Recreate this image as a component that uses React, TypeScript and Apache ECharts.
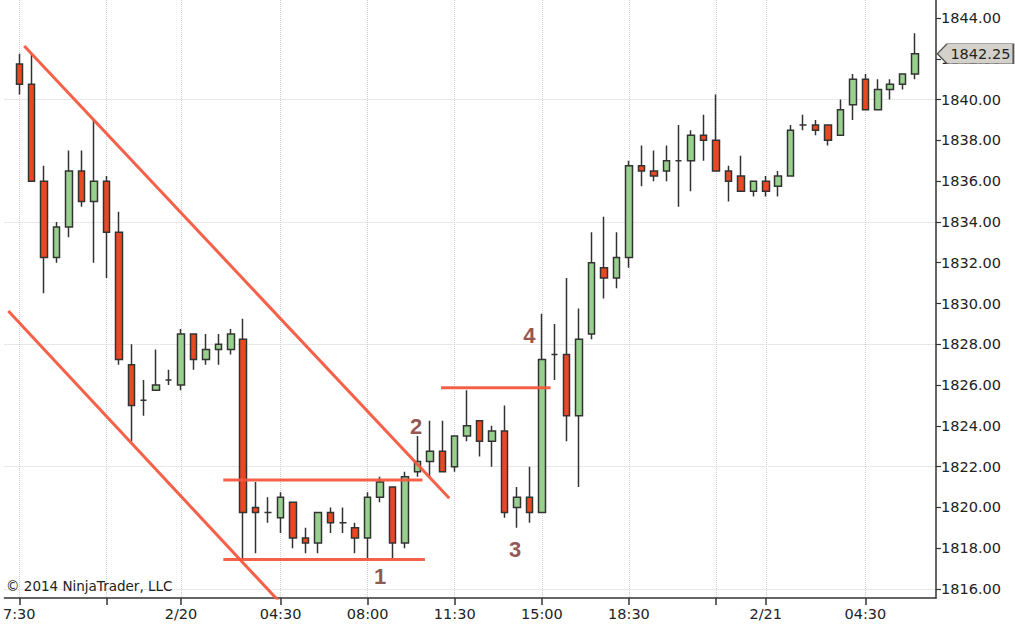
import React, { useEffect, useRef } from 'react';
import * as echarts from 'echarts';

// ---- candle data (index, open, close, low, high) ----
const opens = [
  1841.75, 1840.75, 1836.0, 1832.25, 1833.75, 1836.5, 1835.0, 1836.0, 1833.5, 1827.0,
  1825.25, 1825.75, 1826.25, 1826.0, 1828.5, 1827.25, 1827.75, 1827.75, 1828.25, 1820.0,
  1819.75, 1819.5, 1820.25, 1818.5, 1818.25, 1819.75, 1819.25, 1819.0, 1818.5, 1820.5,
  1821.0, 1818.25, 1821.75, 1822.25, 1822.75, 1822.0, 1823.5, 1824.25, 1823.25, 1823.75,
  1820.0, 1820.5, 1819.75, 1827.5, 1827.5, 1824.5, 1828.5, 1831.75, 1831.25, 1832.25,
  1836.75, 1836.5, 1836.5, 1837.0, 1837.0, 1838.25, 1838.0, 1836.5, 1836.25, 1835.5,
  1836.0, 1835.75, 1836.25, 1838.75, 1838.75, 1838.75, 1838.25, 1839.75, 1841.0, 1839.5,
  1840.5, 1840.75, 1841.25,
];
const closes = [
  1840.75, 1836.0, 1832.25, 1833.75, 1836.5, 1835.0, 1836.0, 1833.5, 1827.25, 1825.0,
  1825.25, 1826.0, 1826.25, 1828.5, 1827.25, 1827.75, 1828.0, 1828.5, 1819.75, 1819.75,
  1819.75, 1820.5, 1818.5, 1818.25, 1819.75, 1819.25, 1819.25, 1818.5, 1820.5, 1821.25,
  1818.25, 1821.5, 1822.25, 1822.75, 1821.75, 1823.5, 1824.0, 1823.25, 1823.75, 1819.75,
  1820.5, 1819.75, 1827.25, 1827.5, 1824.5, 1828.25, 1832.0, 1831.25, 1832.25, 1836.75,
  1836.5, 1836.25, 1837.0, 1837.0, 1838.25, 1838.0, 1836.5, 1836.0, 1835.5, 1836.0,
  1835.5, 1836.25, 1838.5, 1838.75, 1838.5, 1838.0, 1839.5, 1841.0, 1839.5, 1840.5,
  1840.75, 1841.25, 1842.25,
];
const lows = [
  1840.25, 1836.0, 1830.5, 1832.0, 1833.25, 1834.75, 1832.0, 1831.25, 1827.0, 1823.25,
  1824.5, 1825.75, 1826.0, 1825.75, 1826.75, 1827.0, 1827.0, 1827.5, 1817.5, 1817.75,
  1819.25, 1818.75, 1818.0, 1817.75, 1817.75, 1818.75, 1818.75, 1817.75, 1817.5, 1820.25,
  1817.5, 1818.0, 1821.5, 1821.5, 1821.75, 1821.75, 1823.25, 1822.5, 1822.0, 1819.5,
  1819.0, 1819.25, 1819.75, 1826.25, 1823.25, 1821.0, 1828.25, 1830.25, 1830.75, 1831.75,
  1835.75, 1836.0, 1836.0, 1834.75, 1835.5, 1837.0, 1836.5, 1835.0, 1835.5, 1835.25,
  1835.25, 1835.25, 1836.25, 1838.5, 1838.25, 1837.75, 1838.25, 1839.0, 1839.5, 1839.5,
  1840.0, 1840.5, 1841.0,
];
const highs = [
  1842.25, 1842.25, 1836.75, 1834.0, 1837.5, 1837.5, 1839.0, 1836.25, 1834.5, 1828.0,
  1826.25, 1827.75, 1826.75, 1828.75, 1828.5, 1828.5, 1828.5, 1828.75, 1829.25, 1821.25,
  1820.5, 1820.75, 1820.25, 1819.0, 1819.75, 1820.0, 1820.0, 1819.25, 1820.75, 1821.5,
  1821.0, 1821.75, 1823.5, 1824.25, 1824.25, 1823.5, 1825.75, 1824.25, 1824.0, 1825.0,
  1821.0, 1822.0, 1829.5, 1829.0, 1831.25, 1829.75, 1833.5, 1834.25, 1833.5, 1837.0,
  1837.75, 1837.5, 1837.75, 1838.75, 1838.5, 1839.25, 1840.25, 1836.75, 1837.25, 1836.0,
  1836.25, 1836.5, 1838.75, 1839.25, 1839.0, 1838.75, 1840.0, 1841.25, 1841.25, 1841.0,
  1841.0, 1841.25, 1843.25,
];

// ---- axes ----
const xTickIdx = [0, 7, 13, 21, 28, 35, 42, 49, 56, 60, 68];
const xLabelIdx = [0, 13, 21, 28, 35, 42, 49, 60, 68];
const xLabels = ['7:30', '2/20', '04:30', '08:00', '11:30', '15:00', '18:30', '2/21', '04:30'];
const yTicks = [1816, 1818, 1820, 1822, 1824, 1826, 1828, 1830, 1832, 1834, 1836, 1838, 1840, 1842, 1844];
const yGridValues = [1816, 1822, 1828, 1834, 1840];
const lastPrice = 1842.25;

// ---- drawn trend lines (bar index, price) ----
const channelUpper = [[0.4, 1842.63], [34.56, 1820.45]];
const channelLower = [[-0.88, 1829.63], [21.4, 1815.05]];
const rangeTop = [[16.4, 1821.35], [32.4, 1821.35]];
const rangeBottom = [[16.4, 1817.45], [32.6, 1817.45]];
const resistance = [[33.9, 1825.87], [42.7, 1825.87]];

// ---- annotations ----
const annotX = [29.0, 31.9, 39.85, 41.0];
const annotY = [1816.6, 1823.95, 1817.95, 1828.45];
const annotText = ['1', '2', '3', '4'];

const X_MIN = -1.2;
const X_MAX = 73.68;
const Y_MIN = 1815.559;
const Y_MAX = 1844.883;

const LINE_COLOR = '#f4573f';
const FONT = 'DejaVu Sans';

export default function App() {
  const ref = useRef<HTMLDivElement>(null);

  useEffect(() => {
    document.body.style.margin = '0';
    if (!ref.current) return;
    const chart = echarts.init(ref.current, undefined, { renderer: 'svg' });

    const labelMap: Record<number, string> = {};
    xLabelIdx.forEach((v, i) => (labelMap[v] = xLabels[i]));

    const candles = opens.map((o, i) => [i, o, closes[i], lows[i], highs[i]]);

    const trend = (data: number[][]) => ({
      type: 'line',
      data,
      showSymbol: false,
      symbol: 'none',
      silent: true,
      z: 4,
      lineStyle: { color: LINE_COLOR, width: 3, opacity: 0.95 },
    });

    const option: any = {
      animation: false,
      backgroundColor: '#ffffff',
      grid: { left: 0, right: 79, top: 0, bottom: 32, containLabel: false },
      xAxis: {
        type: 'value',
        min: X_MIN,
        max: X_MAX,
        axisLine: { show: true, onZero: false, lineStyle: { color: '#333', width: 1.5 } },
        axisTick: {
          show: true,
          customValues: xTickIdx,
          length: 7,
          lineStyle: { color: '#333', width: 1.5 },
        },
        axisLabel: {
          customValues: xLabelIdx,
          formatter: (v: number) => labelMap[Math.round(v)] ?? '',
          color: '#222',
          fontSize: 14.5,
          fontFamily: FONT,
          margin: 8,
        },
        splitLine: { show: true, lineStyle: { color: '#d0d0d0', type: 'dotted', width: 1 } },
      },
      yAxis: [
        {
          type: 'value',
          position: 'right',
          min: Y_MIN,
          max: Y_MAX,
          axisLine: { show: true, onZero: false, lineStyle: { color: '#333', width: 1.5 } },
          axisTick: { show: true, customValues: yTicks, length: 5, lineStyle: { color: '#333', width: 1.2 } },
          axisLabel: {
            customValues: yTicks,
            formatter: (v: number) => v.toFixed(2),
            color: '#222',
            fontSize: 14.5,
            fontFamily: FONT,
            margin: 5,
          },
          splitLine: { show: false },
        },
        {
          type: 'value',
          position: 'right',
          min: Y_MIN,
          max: Y_MAX,
          axisLine: { show: false },
          axisTick: { show: false, customValues: yGridValues },
          axisLabel: { show: false },
          splitLine: { show: true, lineStyle: { color: '#d0d0d0', type: 'dotted', width: 1 } },
        },
      ],
      graphic: [
        {
          type: 'text',
          left: 6,
          top: 579,
          style: { text: '© 2014 NinjaTrader, LLC', fill: '#222', fontSize: 13.5, fontFamily: FONT },
          z: 10,
        },
      ],
      series: [
        {
          type: 'candlestick',
          data: candles,
          encode: { x: 0, y: [1, 2, 3, 4] },
          barWidth: 7,
          z: 3,
          itemStyle: {
            color: '#98d08e',
            color0: '#ea4822',
            borderColor: '#333',
            borderColor0: '#333',
            borderColorDoji: '#333',
            borderWidth: 1.5,
          },
          markPoint: {
            silent: true,
            symbol: 'path://M0,10 L10,0 L78,0 L78,20 L10,20 Z',
            symbolSize: [76, 20],
            symbolOffset: [40, 0],
            itemStyle: { color: '#d4d1cb', borderColor: '#555', borderWidth: 1 },
            label: {
              show: true,
              position: 'inside',
              offset: [5, 0],
              color: '#222',
              fontSize: 14.5,
              fontFamily: FONT,
              formatter: () => lastPrice.toFixed(2),
            },
            data: [{ coord: [X_MAX - 0.05, lastPrice] }],
          },
        },
        trend(channelUpper),
        trend(channelLower),
        trend(rangeTop),
        trend(rangeBottom),
        trend(resistance),
        {
          type: 'scatter',
          data: annotX.map((x, i) => [x, annotY[i], annotText[i]]),
          symbol: 'circle',
          symbolSize: 1,
          itemStyle: { color: 'rgba(0,0,0,0)' },
          silent: true,
          z: 6,
          label: {
            show: true,
            position: 'inside',
            formatter: (p: any) => p.value[2],
            color: '#772a23',
            fontSize: 22,
            fontWeight: 'bold',
            fontFamily: 'Liberation Sans',
          },
        },
      ],
    };

    chart.setOption(option);
    return () => chart.dispose();
  }, []);

  return <div ref={ref} style={{ width: 1015, height: 630 }} />;
}
